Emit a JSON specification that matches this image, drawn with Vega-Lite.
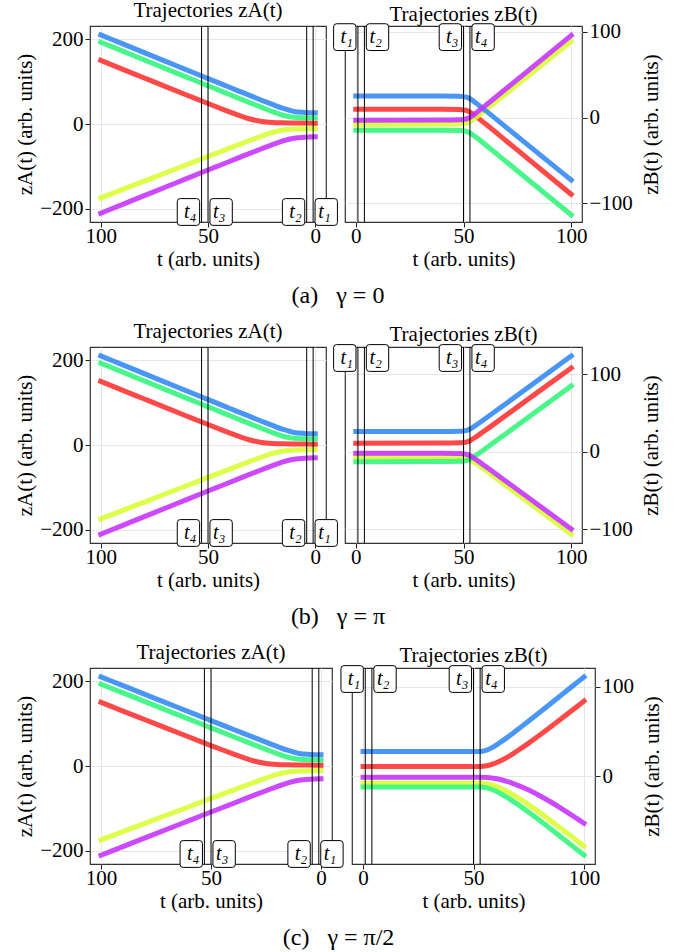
{
  "$schema": "https://vega.github.io/schema/vega-lite/v6.json",
  "background": "white",
  "padding": {"left": 14, "top": -1, "right": 0, "bottom": 0},
  "config": {
    "font": "Liberation Serif",
    "view": {"stroke": "#333333", "strokeWidth": 1.2},
    "axis": {
      "labelFont": "Liberation Serif", "titleFont": "Liberation Serif",
      "labelFontSize": 21, "titleFontSize": 21, "titleFontWeight": "normal",
      "labelColor": "#000000", "titleColor": "#000000",
      "domain": false, "ticks": true, "tickColor": "#222222", "tickSize": 5, "tickWidth": 1,
      "grid": true, "gridColor": "#e6e6e6", "gridWidth": 1,
      "labelPadding": 2, "titlePadding": 4, "labelFlush": false, "labelOverlap": false
    },
    "axisX": {"labelPadding": -2, "titlePadding": 2},
    "axisRight": {"titlePadding": 8},
    "title": {"font": "Liberation Serif", "fontSize": 21, "fontWeight": "normal", "color": "#000000", "offset": 0}
  },
  "datasets": {
    "tl": [
      {"lab": "t₁", "t": 1}, {"lab": "t₂", "t": 4}, {"lab": "t₃", "t": 50}, {"lab": "t₄", "t": 53}
    ],
    "zA": [
      {"s": "red", "t": 0, "z": 1.9}, {"s": "red", "t": 5, "z": 2.1}, {"s": "red", "t": 10, "z": 2.4}, {"s": "red", "t": 15, "z": 2.9}, {"s": "red", "t": 20, "z": 3.8}, {"s": "red", "t": 25, "z": 6.1}, {"s": "red", "t": 30, "z": 11.2}, {"s": "red", "t": 35, "z": 19.2}, {"s": "red", "t": 40, "z": 28.5}, {"s": "red", "t": 45, "z": 38.3}, {"s": "red", "t": 50, "z": 48.2}, {"s": "red", "t": 60, "z": 68.4}, {"s": "red", "t": 70, "z": 88.7}, {"s": "red", "t": 80, "z": 109.1}, {"s": "red", "t": 90, "z": 129.5}, {"s": "red", "t": 100, "z": 150},
      {"s": "yellow", "t": 0, "z": -10.8}, {"s": "yellow", "t": 5, "z": -11.1}, {"s": "yellow", "t": 10, "z": -11.9}, {"s": "yellow", "t": 15, "z": -14}, {"s": "yellow", "t": 20, "z": -19.9}, {"s": "yellow", "t": 25, "z": -28.5}, {"s": "yellow", "t": 30, "z": -37.8}, {"s": "yellow", "t": 35, "z": -47.4}, {"s": "yellow", "t": 40, "z": -57}, {"s": "yellow", "t": 45, "z": -66.7}, {"s": "yellow", "t": 50, "z": -76.5}, {"s": "yellow", "t": 60, "z": -96}, {"s": "yellow", "t": 70, "z": -115.5}, {"s": "yellow", "t": 80, "z": -135.1}, {"s": "yellow", "t": 90, "z": -154.6}, {"s": "yellow", "t": 100, "z": -174.2},
      {"s": "green", "t": 0, "z": 14.3}, {"s": "green", "t": 5, "z": 14.7}, {"s": "green", "t": 10, "z": 16}, {"s": "green", "t": 15, "z": 20.6}, {"s": "green", "t": 20, "z": 29.3}, {"s": "green", "t": 25, "z": 39.1}, {"s": "green", "t": 30, "z": 49.1}, {"s": "green", "t": 35, "z": 59.3}, {"s": "green", "t": 40, "z": 69.5}, {"s": "green", "t": 45, "z": 79.7}, {"s": "green", "t": 50, "z": 90}, {"s": "green", "t": 60, "z": 110.5}, {"s": "green", "t": 70, "z": 131.1}, {"s": "green", "t": 80, "z": 151.7}, {"s": "green", "t": 90, "z": 172.3}, {"s": "green", "t": 100, "z": 192.8},
      {"s": "blue", "t": 0, "z": 26.4}, {"s": "blue", "t": 5, "z": 27.2}, {"s": "blue", "t": 10, "z": 29.6}, {"s": "blue", "t": 15, "z": 36.7}, {"s": "blue", "t": 20, "z": 46.1}, {"s": "blue", "t": 25, "z": 56.1}, {"s": "blue", "t": 30, "z": 66.2}, {"s": "blue", "t": 35, "z": 76.4}, {"s": "blue", "t": 40, "z": 86.6}, {"s": "blue", "t": 45, "z": 96.9}, {"s": "blue", "t": 50, "z": 107.1}, {"s": "blue", "t": 60, "z": 127.7}, {"s": "blue", "t": 70, "z": 148.2}, {"s": "blue", "t": 80, "z": 168.8}, {"s": "blue", "t": 90, "z": 189.4}, {"s": "blue", "t": 100, "z": 210},
      {"s": "purple", "t": 0, "z": -30.1}, {"s": "purple", "t": 5, "z": -31}, {"s": "purple", "t": 10, "z": -33.7}, {"s": "purple", "t": 15, "z": -39.9}, {"s": "purple", "t": 20, "z": -48.7}, {"s": "purple", "t": 25, "z": -58.3}, {"s": "purple", "t": 30, "z": -68.2}, {"s": "purple", "t": 35, "z": -78.2}, {"s": "purple", "t": 40, "z": -88.3}, {"s": "purple", "t": 45, "z": -98.4}, {"s": "purple", "t": 50, "z": -108.5}, {"s": "purple", "t": 60, "z": -128.8}, {"s": "purple", "t": 70, "z": -149.2}, {"s": "purple", "t": 80, "z": -169.5}, {"s": "purple", "t": 90, "z": -189.9}, {"s": "purple", "t": 100, "z": -210.3}
    ],
    "zBa": [
      {"s": "red", "t": 0, "z": 9.8}, {"s": "red", "t": 40, "z": 9.6}, {"s": "red", "t": 48, "z": 9.3}, {"s": "red", "t": 50, "z": 8.9}, {"s": "red", "t": 51, "z": 8.5}, {"s": "red", "t": 52, "z": 7.7}, {"s": "red", "t": 53, "z": 6.4}, {"s": "red", "t": 54, "z": 4.8}, {"s": "red", "t": 56, "z": 1.0}, {"s": "red", "t": 60, "z": -7.0}, {"s": "red", "t": 70, "z": -27.6}, {"s": "red", "t": 100, "z": -89.7},
      {"s": "yellow", "t": 0, "z": -8}, {"s": "yellow", "t": 40, "z": -7.8}, {"s": "yellow", "t": 48, "z": -7.5}, {"s": "yellow", "t": 50, "z": -7.2}, {"s": "yellow", "t": 51, "z": -6.7}, {"s": "yellow", "t": 52, "z": -6}, {"s": "yellow", "t": 53, "z": -4.7}, {"s": "yellow", "t": 54, "z": -3.1}, {"s": "yellow", "t": 56, "z": 0.6}, {"s": "yellow", "t": 60, "z": 8.4}, {"s": "yellow", "t": 70, "z": 28.5}, {"s": "yellow", "t": 100, "z": 89},
      {"s": "green", "t": 0, "z": -14.7}, {"s": "green", "t": 40, "z": -14.9}, {"s": "green", "t": 48, "z": -15.2}, {"s": "green", "t": 50, "z": -15.5}, {"s": "green", "t": 51, "z": -16}, {"s": "green", "t": 52, "z": -16.8}, {"s": "green", "t": 53, "z": -18}, {"s": "green", "t": 54, "z": -19.7}, {"s": "green", "t": 56, "z": -23.4}, {"s": "green", "t": 60, "z": -31.4}, {"s": "green", "t": 70, "z": -51.9}, {"s": "green", "t": 100, "z": -113.7},
      {"s": "blue", "t": 0, "z": 25.3}, {"s": "blue", "t": 40, "z": 25.1}, {"s": "blue", "t": 48, "z": 24.8}, {"s": "blue", "t": 50, "z": 24.5}, {"s": "blue", "t": 51, "z": 24.0}, {"s": "blue", "t": 52, "z": 23.3}, {"s": "blue", "t": 53, "z": 22.0}, {"s": "blue", "t": 54, "z": 20.4}, {"s": "blue", "t": 56, "z": 16.6}, {"s": "blue", "t": 60, "z": 8.7}, {"s": "blue", "t": 70, "z": -11.7}, {"s": "blue", "t": 100, "z": -73},
      {"s": "purple", "t": 0, "z": -3}, {"s": "purple", "t": 40, "z": -2.8}, {"s": "purple", "t": 48, "z": -2.5}, {"s": "purple", "t": 50, "z": -2.2}, {"s": "purple", "t": 51, "z": -1.7}, {"s": "purple", "t": 52, "z": -0.9}, {"s": "purple", "t": 53, "z": 0.3}, {"s": "purple", "t": 54, "z": 2.0}, {"s": "purple", "t": 56, "z": 5.7}, {"s": "purple", "t": 60, "z": 13.7}, {"s": "purple", "t": 70, "z": 34.2}, {"s": "purple", "t": 100, "z": 96}
    ],
    "zBb": [
      {"s": "red", "t": 0, "z": 10.8}, {"s": "red", "t": 40, "z": 11.0}, {"s": "red", "t": 48, "z": 11.3}, {"s": "red", "t": 50, "z": 11.6}, {"s": "red", "t": 51, "z": 12.1}, {"s": "red", "t": 52, "z": 12.8}, {"s": "red", "t": 53, "z": 14.1}, {"s": "red", "t": 54, "z": 15.7}, {"s": "red", "t": 56, "z": 19.4}, {"s": "red", "t": 60, "z": 27.2}, {"s": "red", "t": 70, "z": 47.4}, {"s": "red", "t": 100, "z": 108},
      {"s": "yellow", "t": 0, "z": -7}, {"s": "yellow", "t": 40, "z": -7.2}, {"s": "yellow", "t": 48, "z": -7.5}, {"s": "yellow", "t": 50, "z": -7.9}, {"s": "yellow", "t": 51, "z": -8.3}, {"s": "yellow", "t": 52, "z": -9.1}, {"s": "yellow", "t": 53, "z": -10.4}, {"s": "yellow", "t": 54, "z": -12}, {"s": "yellow", "t": 56, "z": -15.8}, {"s": "yellow", "t": 60, "z": -23.9}, {"s": "yellow", "t": 70, "z": -44.5}, {"s": "yellow", "t": 100, "z": -106.6},
      {"s": "green", "t": 0, "z": -13}, {"s": "green", "t": 40, "z": -12.8}, {"s": "green", "t": 48, "z": -12.5}, {"s": "green", "t": 50, "z": -12.2}, {"s": "green", "t": 51, "z": -11.7}, {"s": "green", "t": 52, "z": -11}, {"s": "green", "t": 53, "z": -9.7}, {"s": "green", "t": 54, "z": -8.1}, {"s": "green", "t": 56, "z": -4.4}, {"s": "green", "t": 60, "z": 3.5}, {"s": "green", "t": 70, "z": 23.8}, {"s": "green", "t": 100, "z": 84.8},
      {"s": "blue", "t": 0, "z": 25.8}, {"s": "blue", "t": 40, "z": 26.0}, {"s": "blue", "t": 48, "z": 26.3}, {"s": "blue", "t": 50, "z": 26.6}, {"s": "blue", "t": 51, "z": 27.1}, {"s": "blue", "t": 52, "z": 27.8}, {"s": "blue", "t": 53, "z": 29.1}, {"s": "blue", "t": 54, "z": 30.7}, {"s": "blue", "t": 56, "z": 34.4}, {"s": "blue", "t": 60, "z": 42.3}, {"s": "blue", "t": 70, "z": 62.5}, {"s": "blue", "t": 100, "z": 123.5},
      {"s": "purple", "t": 0, "z": -2}, {"s": "purple", "t": 40, "z": -2.2}, {"s": "purple", "t": 48, "z": -2.5}, {"s": "purple", "t": 50, "z": -2.8}, {"s": "purple", "t": 51, "z": -3.3}, {"s": "purple", "t": 52, "z": -4}, {"s": "purple", "t": 53, "z": -5.3}, {"s": "purple", "t": 54, "z": -6.9}, {"s": "purple", "t": 56, "z": -10.7}, {"s": "purple", "t": 60, "z": -18.6}, {"s": "purple", "t": 70, "z": -38.9}, {"s": "purple", "t": 100, "z": -100}
    ],
    "zBc": [
      {"s": "red", "t": 0, "z": 11}, {"s": "red", "t": 53, "z": 11}, {"s": "red", "t": 56, "z": 11.7}, {"s": "red", "t": 59, "z": 13.8}, {"s": "red", "t": 62, "z": 17}, {"s": "red", "t": 65, "z": 20.9}, {"s": "red", "t": 68, "z": 25.4}, {"s": "red", "t": 71, "z": 30.3}, {"s": "red", "t": 75, "z": 37.1}, {"s": "red", "t": 80, "z": 46.1}, {"s": "red", "t": 85, "z": 55.4}, {"s": "red", "t": 90, "z": 64.8}, {"s": "red", "t": 95, "z": 74.4}, {"s": "red", "t": 100, "z": 84},
      {"s": "yellow", "t": 0, "z": -7.4}, {"s": "yellow", "t": 53, "z": -7.4}, {"s": "yellow", "t": 56, "z": -8.1}, {"s": "yellow", "t": 59, "z": -9.9}, {"s": "yellow", "t": 62, "z": -12.8}, {"s": "yellow", "t": 65, "z": -16.5}, {"s": "yellow", "t": 68, "z": -20.7}, {"s": "yellow", "t": 71, "z": -25.3}, {"s": "yellow", "t": 75, "z": -31.9}, {"s": "yellow", "t": 80, "z": -40.6}, {"s": "yellow", "t": 85, "z": -49.7}, {"s": "yellow", "t": 90, "z": -59}, {"s": "yellow", "t": 95, "z": -68.4}, {"s": "yellow", "t": 100, "z": -78},
      {"s": "green", "t": 0, "z": -12}, {"s": "green", "t": 53, "z": -12}, {"s": "green", "t": 56, "z": -12.9}, {"s": "green", "t": 59, "z": -15.3}, {"s": "green", "t": 62, "z": -18.9}, {"s": "green", "t": 65, "z": -23.2}, {"s": "green", "t": 68, "z": -28}, {"s": "green", "t": 71, "z": -33.1}, {"s": "green", "t": 75, "z": -40.3}, {"s": "green", "t": 80, "z": -49.5}, {"s": "green", "t": 85, "z": -59}, {"s": "green", "t": 90, "z": -68.6}, {"s": "green", "t": 95, "z": -78.3}, {"s": "green", "t": 100, "z": -88},
      {"s": "blue", "t": 0, "z": 27.8}, {"s": "blue", "t": 53, "z": 27.8}, {"s": "blue", "t": 56, "z": 29.3}, {"s": "blue", "t": 59, "z": 32.9}, {"s": "blue", "t": 62, "z": 37.7}, {"s": "blue", "t": 65, "z": 42.9}, {"s": "blue", "t": 68, "z": 48.4}, {"s": "blue", "t": 71, "z": 54.1}, {"s": "blue", "t": 75, "z": 61.8}, {"s": "blue", "t": 80, "z": 71.5}, {"s": "blue", "t": 85, "z": 81.3}, {"s": "blue", "t": 90, "z": 91.2}, {"s": "blue", "t": 95, "z": 101.1}, {"s": "blue", "t": 100, "z": 111},
      {"s": "purple", "t": 0, "z": -1}, {"s": "purple", "t": 53, "z": -1}, {"s": "purple", "t": 56, "z": -1.3}, {"s": "purple", "t": 59, "z": -2.2}, {"s": "purple", "t": 62, "z": -3.6}, {"s": "purple", "t": 65, "z": -5.6}, {"s": "purple", "t": 68, "z": -8.1}, {"s": "purple", "t": 71, "z": -11}, {"s": "purple", "t": 75, "z": -15.4}, {"s": "purple", "t": 80, "z": -21.7}, {"s": "purple", "t": 85, "z": -28.7}, {"s": "purple", "t": 90, "z": -36.3}, {"s": "purple", "t": 95, "z": -44.2}, {"s": "purple", "t": 100, "z": -52.5}
    ]
  },
  "spacing": 321,
  "bounds": "flush",
  "vconcat": [
    {
      "hconcat": [
        {
          "width": 236, "height": 196,
          "title": {"text": "Trajectories zA(t)", "frame": "group"},
          "layer": [
            {"data": {"name": "zA"}, "mark": {"type": "line", "strokeWidth": 5, "opacity": 0.88, "strokeCap": "square", "interpolate": "monotone"},
             "encoding": {
               "x": {"field": "t", "type": "quantitative", "scale": {"domain": [-5, 105], "reverse": true, "nice": false, "zero": false}, "axis": {"values": [0, 50, 100], "title": "t (arb. units)"}},
               "y": {"field": "z", "type": "quantitative", "scale": {"domain": [-231, 231], "nice": false, "zero": false}, "axis": {"values": [-200, 0, 200], "title": "zA(t) (arb. units)"}},
               "color": {"field": "s", "type": "nominal", "scale": {"domain": ["red", "yellow", "green", "blue", "purple"], "range": ["#ff3030", "#d9ff30", "#30f57a", "#3087f5", "#c530ff"]}, "legend": null}}},
            {"data": {"name": "tl"}, "mark": {"type": "rule", "color": "#000000", "strokeWidth": 1}, "encoding": {"x": {"field": "t", "type": "quantitative"}}},
            {"data": {"name": "tl"}, "transform": [{"filter": {"field": "lab", "oneOf": ["t₂", "t₄"]}}],
             "mark": {"type": "point", "shape": "M -0.38 -1.03 L -1.64 -1.03 Q -1.87 -1.03 -1.87 -0.8 L -1.87 0.8 Q -1.87 1.03 -1.64 1.03 L -0.38 1.03 Q -0.15 1.03 -0.15 0.8 L -0.15 -0.8 Q -0.15 -1.03 -0.38 -1.03 Z", "size": 676, "filled": true, "fill": "white", "stroke": "#000000", "strokeWidth": 1, "opacity": 1},
             "encoding": {"x": {"field": "t", "type": "quantitative"}, "y": {"datum": -207.4}}},
            {"data": {"name": "tl"}, "transform": [{"filter": {"field": "lab", "oneOf": ["t₁", "t₃"]}}],
             "mark": {"type": "point", "shape": "M 0.38 -1.03 L 1.64 -1.03 Q 1.87 -1.03 1.87 -0.8 L 1.87 0.8 Q 1.87 1.03 1.64 1.03 L 0.38 1.03 Q 0.15 1.03 0.15 0.8 L 0.15 -0.8 Q 0.15 -1.03 0.38 -1.03 Z", "size": 676, "filled": true, "fill": "white", "stroke": "#000000", "strokeWidth": 1, "opacity": 1},
             "encoding": {"x": {"field": "t", "type": "quantitative"}, "y": {"datum": -207.4}}},
            {"data": {"name": "tl"}, "transform": [{"filter": {"field": "lab", "oneOf": ["t₂", "t₄"]}}],
             "mark": {"type": "text", "align": "right", "baseline": "middle", "dx": -5, "fontSize": 20, "fontStyle": "italic", "color": "#000000"},
             "encoding": {"x": {"field": "t", "type": "quantitative"}, "y": {"datum": -207.4}, "text": {"field": "lab"}}},
            {"data": {"name": "tl"}, "transform": [{"filter": {"field": "lab", "oneOf": ["t₁", "t₃"]}}],
             "mark": {"type": "text", "align": "left", "baseline": "middle", "dx": 5, "fontSize": 20, "fontStyle": "italic", "color": "#000000"},
             "encoding": {"x": {"field": "t", "type": "quantitative"}, "y": {"datum": -207.4}, "text": {"field": "lab"}}}
          ]
        },
        {
          "width": 237, "height": 196,
          "title": {"text": "Trajectories zB(t)", "frame": "group", "offset": -3.9},
          "layer": [
            {"data": {"name": "zBa"}, "mark": {"type": "line", "strokeWidth": 5, "opacity": 0.88, "strokeCap": "square", "interpolate": "monotone"},
             "encoding": {
               "x": {"field": "t", "type": "quantitative", "scale": {"domain": [-5, 105], "nice": false, "zero": false}, "axis": {"values": [0, 50, 100], "title": "t (arb. units)"}},
               "y": {"field": "z", "type": "quantitative", "scale": {"domain": [-122, 107], "nice": false, "zero": false}, "axis": {"orient": "right", "values": [-100, 0, 100], "title": "zB(t) (arb. units)", "titleAngle": 270, "titleBaseline": "top"}},
               "color": {"field": "s", "type": "nominal", "scale": {"domain": ["red", "yellow", "green", "blue", "purple"], "range": ["#ff3030", "#d9ff30", "#30f57a", "#3087f5", "#c530ff"]}, "legend": null}}},
            {"data": {"name": "tl"}, "mark": {"type": "rule", "color": "#000000", "strokeWidth": 1}, "encoding": {"x": {"field": "t", "type": "quantitative"}}},
            {"data": {"name": "tl"}, "transform": [{"filter": {"field": "lab", "oneOf": ["t₁", "t₃"]}}],
             "mark": {"type": "point", "shape": "M -0.38 -1.03 L -1.64 -1.03 Q -1.87 -1.03 -1.87 -0.8 L -1.87 0.8 Q -1.87 1.03 -1.64 1.03 L -0.38 1.03 Q -0.15 1.03 -0.15 0.8 L -0.15 -0.8 Q -0.15 -1.03 -0.38 -1.03 Z", "size": 676, "filled": true, "fill": "white", "stroke": "#000000", "strokeWidth": 1, "opacity": 1},
             "encoding": {"x": {"field": "t", "type": "quantitative"}, "y": {"datum": 94}}},
            {"data": {"name": "tl"}, "transform": [{"filter": {"field": "lab", "oneOf": ["t₂", "t₄"]}}],
             "mark": {"type": "point", "shape": "M 0.38 -1.03 L 1.64 -1.03 Q 1.87 -1.03 1.87 -0.8 L 1.87 0.8 Q 1.87 1.03 1.64 1.03 L 0.38 1.03 Q 0.15 1.03 0.15 0.8 L 0.15 -0.8 Q 0.15 -1.03 0.38 -1.03 Z", "size": 676, "filled": true, "fill": "white", "stroke": "#000000", "strokeWidth": 1, "opacity": 1},
             "encoding": {"x": {"field": "t", "type": "quantitative"}, "y": {"datum": 94}}},
            {"data": {"name": "tl"}, "transform": [{"filter": {"field": "lab", "oneOf": ["t₁", "t₃"]}}],
             "mark": {"type": "text", "align": "right", "baseline": "middle", "dx": -5, "fontSize": 20, "fontStyle": "italic", "color": "#000000"},
             "encoding": {"x": {"field": "t", "type": "quantitative"}, "y": {"datum": 94}, "text": {"field": "lab"}}},
            {"data": {"name": "tl"}, "transform": [{"filter": {"field": "lab", "oneOf": ["t₂", "t₄"]}}],
             "mark": {"type": "text", "align": "left", "baseline": "middle", "dx": 5, "fontSize": 20, "fontStyle": "italic", "color": "#000000"},
             "encoding": {"x": {"field": "t", "type": "quantitative"}, "y": {"datum": 94}, "text": {"field": "lab"}}}
          ]
        }
      ],
      "spacing": 19, "bounds": "flush",
      "title": {"text": "(a)\u2002 γ = 0", "orient": "bottom", "anchor": "middle", "offset": 14, "fontSize": 24}
    },
    {
      "hconcat": [
        {
          "width": 236, "height": 196,
          "title": {"text": "Trajectories zA(t)", "frame": "group"},
          "layer": [
            {"data": {"name": "zA"}, "mark": {"type": "line", "strokeWidth": 5, "opacity": 0.88, "strokeCap": "square", "interpolate": "monotone"},
             "encoding": {
               "x": {"field": "t", "type": "quantitative", "scale": {"domain": [-5, 105], "reverse": true, "nice": false, "zero": false}, "axis": {"values": [0, 50, 100], "title": "t (arb. units)"}},
               "y": {"field": "z", "type": "quantitative", "scale": {"domain": [-231, 231], "nice": false, "zero": false}, "axis": {"values": [-200, 0, 200], "title": "zA(t) (arb. units)"}},
               "color": {"field": "s", "type": "nominal", "scale": {"domain": ["red", "yellow", "green", "blue", "purple"], "range": ["#ff3030", "#d9ff30", "#30f57a", "#3087f5", "#c530ff"]}, "legend": null}}},
            {"data": {"name": "tl"}, "mark": {"type": "rule", "color": "#000000", "strokeWidth": 1}, "encoding": {"x": {"field": "t", "type": "quantitative"}}},
            {"data": {"name": "tl"}, "transform": [{"filter": {"field": "lab", "oneOf": ["t₂", "t₄"]}}],
             "mark": {"type": "point", "shape": "M -0.38 -1.03 L -1.64 -1.03 Q -1.87 -1.03 -1.87 -0.8 L -1.87 0.8 Q -1.87 1.03 -1.64 1.03 L -0.38 1.03 Q -0.15 1.03 -0.15 0.8 L -0.15 -0.8 Q -0.15 -1.03 -0.38 -1.03 Z", "size": 676, "filled": true, "fill": "white", "stroke": "#000000", "strokeWidth": 1, "opacity": 1},
             "encoding": {"x": {"field": "t", "type": "quantitative"}, "y": {"datum": -207.4}}},
            {"data": {"name": "tl"}, "transform": [{"filter": {"field": "lab", "oneOf": ["t₁", "t₃"]}}],
             "mark": {"type": "point", "shape": "M 0.38 -1.03 L 1.64 -1.03 Q 1.87 -1.03 1.87 -0.8 L 1.87 0.8 Q 1.87 1.03 1.64 1.03 L 0.38 1.03 Q 0.15 1.03 0.15 0.8 L 0.15 -0.8 Q 0.15 -1.03 0.38 -1.03 Z", "size": 676, "filled": true, "fill": "white", "stroke": "#000000", "strokeWidth": 1, "opacity": 1},
             "encoding": {"x": {"field": "t", "type": "quantitative"}, "y": {"datum": -207.4}}},
            {"data": {"name": "tl"}, "transform": [{"filter": {"field": "lab", "oneOf": ["t₂", "t₄"]}}],
             "mark": {"type": "text", "align": "right", "baseline": "middle", "dx": -5, "fontSize": 20, "fontStyle": "italic", "color": "#000000"},
             "encoding": {"x": {"field": "t", "type": "quantitative"}, "y": {"datum": -207.4}, "text": {"field": "lab"}}},
            {"data": {"name": "tl"}, "transform": [{"filter": {"field": "lab", "oneOf": ["t₁", "t₃"]}}],
             "mark": {"type": "text", "align": "left", "baseline": "middle", "dx": 5, "fontSize": 20, "fontStyle": "italic", "color": "#000000"},
             "encoding": {"x": {"field": "t", "type": "quantitative"}, "y": {"datum": -207.4}, "text": {"field": "lab"}}}
          ]
        },
        {
          "width": 237, "height": 196,
          "title": {"text": "Trajectories zB(t)", "frame": "group", "offset": -2.3},
          "layer": [
            {"data": {"name": "zBb"}, "mark": {"type": "line", "strokeWidth": 5, "opacity": 0.88, "strokeCap": "square", "interpolate": "monotone"},
             "encoding": {
               "x": {"field": "t", "type": "quantitative", "scale": {"domain": [-5, 105], "nice": false, "zero": false}, "axis": {"values": [0, 50, 100], "title": "t (arb. units)"}},
               "y": {"field": "z", "type": "quantitative", "scale": {"domain": [-118, 135], "nice": false, "zero": false}, "axis": {"orient": "right", "values": [-100, 0, 100], "title": "zB(t) (arb. units)", "titleAngle": 270, "titleBaseline": "top"}},
               "color": {"field": "s", "type": "nominal", "scale": {"domain": ["red", "yellow", "green", "blue", "purple"], "range": ["#ff3030", "#d9ff30", "#30f57a", "#3087f5", "#c530ff"]}, "legend": null}}},
            {"data": {"name": "tl"}, "mark": {"type": "rule", "color": "#000000", "strokeWidth": 1}, "encoding": {"x": {"field": "t", "type": "quantitative"}}},
            {"data": {"name": "tl"}, "transform": [{"filter": {"field": "lab", "oneOf": ["t₁", "t₃"]}}],
             "mark": {"type": "point", "shape": "M -0.38 -1.03 L -1.64 -1.03 Q -1.87 -1.03 -1.87 -0.8 L -1.87 0.8 Q -1.87 1.03 -1.64 1.03 L -0.38 1.03 Q -0.15 1.03 -0.15 0.8 L -0.15 -0.8 Q -0.15 -1.03 -0.38 -1.03 Z", "size": 676, "filled": true, "fill": "white", "stroke": "#000000", "strokeWidth": 1, "opacity": 1},
             "encoding": {"x": {"field": "t", "type": "quantitative"}, "y": {"datum": 120.8}}},
            {"data": {"name": "tl"}, "transform": [{"filter": {"field": "lab", "oneOf": ["t₂", "t₄"]}}],
             "mark": {"type": "point", "shape": "M 0.38 -1.03 L 1.64 -1.03 Q 1.87 -1.03 1.87 -0.8 L 1.87 0.8 Q 1.87 1.03 1.64 1.03 L 0.38 1.03 Q 0.15 1.03 0.15 0.8 L 0.15 -0.8 Q 0.15 -1.03 0.38 -1.03 Z", "size": 676, "filled": true, "fill": "white", "stroke": "#000000", "strokeWidth": 1, "opacity": 1},
             "encoding": {"x": {"field": "t", "type": "quantitative"}, "y": {"datum": 120.8}}},
            {"data": {"name": "tl"}, "transform": [{"filter": {"field": "lab", "oneOf": ["t₁", "t₃"]}}],
             "mark": {"type": "text", "align": "right", "baseline": "middle", "dx": -5, "fontSize": 20, "fontStyle": "italic", "color": "#000000"},
             "encoding": {"x": {"field": "t", "type": "quantitative"}, "y": {"datum": 120.8}, "text": {"field": "lab"}}},
            {"data": {"name": "tl"}, "transform": [{"filter": {"field": "lab", "oneOf": ["t₂", "t₄"]}}],
             "mark": {"type": "text", "align": "left", "baseline": "middle", "dx": 5, "fontSize": 20, "fontStyle": "italic", "color": "#000000"},
             "encoding": {"x": {"field": "t", "type": "quantitative"}, "y": {"datum": 120.8}, "text": {"field": "lab"}}}
          ]
        }
      ],
      "spacing": 19, "bounds": "flush",
      "title": {"text": "(b)\u2002 γ = π", "orient": "bottom", "anchor": "middle", "offset": 14, "fontSize": 24}
    },
    {
      "hconcat": [
        {
          "width": 242, "height": 196,
          "title": {"text": "Trajectories zA(t)", "frame": "group"},
          "layer": [
            {"data": {"name": "zA"}, "mark": {"type": "line", "strokeWidth": 5, "opacity": 0.88, "strokeCap": "square", "interpolate": "monotone"},
             "encoding": {
               "x": {"field": "t", "type": "quantitative", "scale": {"domain": [-5, 105], "reverse": true, "nice": false, "zero": false}, "axis": {"values": [0, 50, 100], "title": "t (arb. units)"}},
               "y": {"field": "z", "type": "quantitative", "scale": {"domain": [-231, 231], "nice": false, "zero": false}, "axis": {"values": [-200, 0, 200], "title": "zA(t) (arb. units)"}},
               "color": {"field": "s", "type": "nominal", "scale": {"domain": ["red", "yellow", "green", "blue", "purple"], "range": ["#ff3030", "#d9ff30", "#30f57a", "#3087f5", "#c530ff"]}, "legend": null}}},
            {"data": {"name": "tl"}, "mark": {"type": "rule", "color": "#000000", "strokeWidth": 1}, "encoding": {"x": {"field": "t", "type": "quantitative"}}},
            {"data": {"name": "tl"}, "transform": [{"filter": {"field": "lab", "oneOf": ["t₂", "t₄"]}}],
             "mark": {"type": "point", "shape": "M -0.38 -1.03 L -1.64 -1.03 Q -1.87 -1.03 -1.87 -0.8 L -1.87 0.8 Q -1.87 1.03 -1.64 1.03 L -0.38 1.03 Q -0.15 1.03 -0.15 0.8 L -0.15 -0.8 Q -0.15 -1.03 -0.38 -1.03 Z", "size": 676, "filled": true, "fill": "white", "stroke": "#000000", "strokeWidth": 1, "opacity": 1},
             "encoding": {"x": {"field": "t", "type": "quantitative"}, "y": {"datum": -207.4}}},
            {"data": {"name": "tl"}, "transform": [{"filter": {"field": "lab", "oneOf": ["t₁", "t₃"]}}],
             "mark": {"type": "point", "shape": "M 0.38 -1.03 L 1.64 -1.03 Q 1.87 -1.03 1.87 -0.8 L 1.87 0.8 Q 1.87 1.03 1.64 1.03 L 0.38 1.03 Q 0.15 1.03 0.15 0.8 L 0.15 -0.8 Q 0.15 -1.03 0.38 -1.03 Z", "size": 676, "filled": true, "fill": "white", "stroke": "#000000", "strokeWidth": 1, "opacity": 1},
             "encoding": {"x": {"field": "t", "type": "quantitative"}, "y": {"datum": -207.4}}},
            {"data": {"name": "tl"}, "transform": [{"filter": {"field": "lab", "oneOf": ["t₂", "t₄"]}}],
             "mark": {"type": "text", "align": "right", "baseline": "middle", "dx": -5, "fontSize": 20, "fontStyle": "italic", "color": "#000000"},
             "encoding": {"x": {"field": "t", "type": "quantitative"}, "y": {"datum": -207.4}, "text": {"field": "lab"}}},
            {"data": {"name": "tl"}, "transform": [{"filter": {"field": "lab", "oneOf": ["t₁", "t₃"]}}],
             "mark": {"type": "text", "align": "left", "baseline": "middle", "dx": 5, "fontSize": 20, "fontStyle": "italic", "color": "#000000"},
             "encoding": {"x": {"field": "t", "type": "quantitative"}, "y": {"datum": -207.4}, "text": {"field": "lab"}}}
          ]
        },
        {
          "width": 243, "height": 196,
          "title": {"text": "Trajectories zB(t)", "frame": "group", "offset": -2.3},
          "layer": [
            {"data": {"name": "zBc"}, "mark": {"type": "line", "strokeWidth": 5, "opacity": 0.88, "strokeCap": "square", "interpolate": "monotone"},
             "encoding": {
               "x": {"field": "t", "type": "quantitative", "scale": {"domain": [-5, 105], "nice": false, "zero": false}, "axis": {"values": [0, 50, 100], "title": "t (arb. units)"}},
               "y": {"field": "z", "type": "quantitative", "scale": {"domain": [-98, 121], "nice": false, "zero": false}, "axis": {"orient": "right", "values": [0, 100], "title": "zB(t) (arb. units)", "titleAngle": 270, "titleBaseline": "top"}},
               "color": {"field": "s", "type": "nominal", "scale": {"domain": ["red", "yellow", "green", "blue", "purple"], "range": ["#ff3030", "#d9ff30", "#30f57a", "#3087f5", "#c530ff"]}, "legend": null}}},
            {"data": {"name": "tl"}, "mark": {"type": "rule", "color": "#000000", "strokeWidth": 1}, "encoding": {"x": {"field": "t", "type": "quantitative"}}},
            {"data": {"name": "tl"}, "transform": [{"filter": {"field": "lab", "oneOf": ["t₁", "t₃"]}}],
             "mark": {"type": "point", "shape": "M -0.38 -1.03 L -1.64 -1.03 Q -1.87 -1.03 -1.87 -0.8 L -1.87 0.8 Q -1.87 1.03 -1.64 1.03 L -0.38 1.03 Q -0.15 1.03 -0.15 0.8 L -0.15 -0.8 Q -0.15 -1.03 -0.38 -1.03 Z", "size": 676, "filled": true, "fill": "white", "stroke": "#000000", "strokeWidth": 1, "opacity": 1},
             "encoding": {"x": {"field": "t", "type": "quantitative"}, "y": {"datum": 108.7}}},
            {"data": {"name": "tl"}, "transform": [{"filter": {"field": "lab", "oneOf": ["t₂", "t₄"]}}],
             "mark": {"type": "point", "shape": "M 0.38 -1.03 L 1.64 -1.03 Q 1.87 -1.03 1.87 -0.8 L 1.87 0.8 Q 1.87 1.03 1.64 1.03 L 0.38 1.03 Q 0.15 1.03 0.15 0.8 L 0.15 -0.8 Q 0.15 -1.03 0.38 -1.03 Z", "size": 676, "filled": true, "fill": "white", "stroke": "#000000", "strokeWidth": 1, "opacity": 1},
             "encoding": {"x": {"field": "t", "type": "quantitative"}, "y": {"datum": 108.7}}},
            {"data": {"name": "tl"}, "transform": [{"filter": {"field": "lab", "oneOf": ["t₁", "t₃"]}}],
             "mark": {"type": "text", "align": "right", "baseline": "middle", "dx": -5, "fontSize": 20, "fontStyle": "italic", "color": "#000000"},
             "encoding": {"x": {"field": "t", "type": "quantitative"}, "y": {"datum": 108.7}, "text": {"field": "lab"}}},
            {"data": {"name": "tl"}, "transform": [{"filter": {"field": "lab", "oneOf": ["t₂", "t₄"]}}],
             "mark": {"type": "text", "align": "left", "baseline": "middle", "dx": 5, "fontSize": 20, "fontStyle": "italic", "color": "#000000"},
             "encoding": {"x": {"field": "t", "type": "quantitative"}, "y": {"datum": 108.7}, "text": {"field": "lab"}}}
          ]
        }
      ],
      "spacing": 20, "bounds": "flush",
      "title": {"text": "(c)\u2002 γ = π/2", "orient": "bottom", "anchor": "middle", "offset": 14, "fontSize": 24}
    }
  ]
}
